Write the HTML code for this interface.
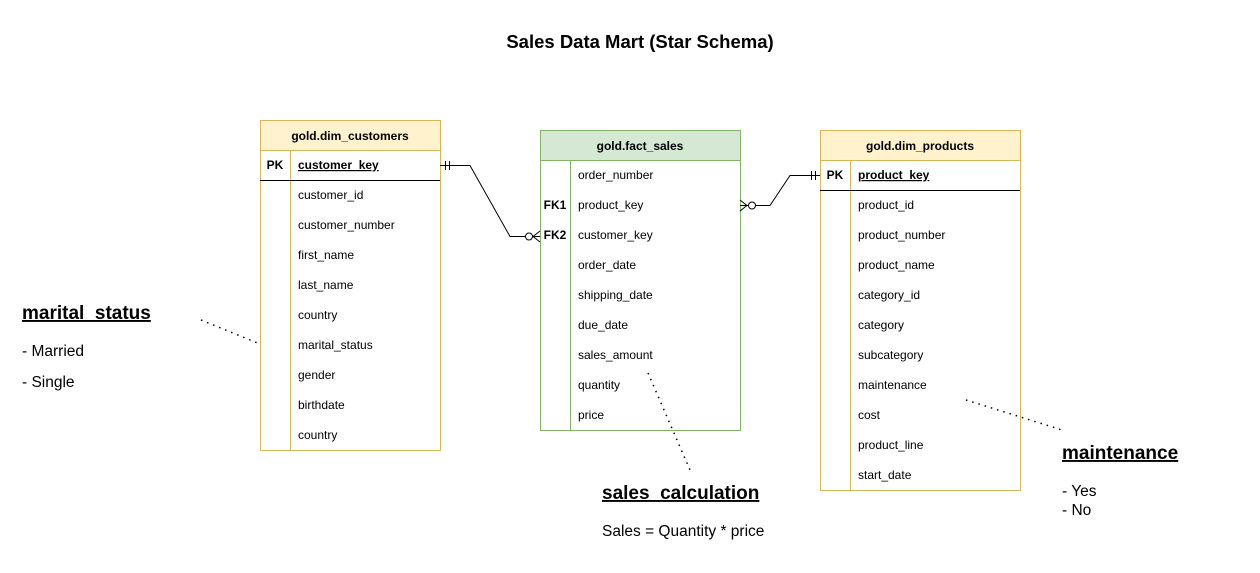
<!DOCTYPE html>
<html><head><meta charset="utf-8"><style>
html,body{margin:0;padding:0;background:#fff;}
svg{display:block;font-family:"Liberation Sans",Arial,sans-serif;}
</style></head><body>
<svg width="1260" height="573" viewBox="0 0 1260 573" xmlns="http://www.w3.org/2000/svg">
<text x="640" y="48" text-anchor="middle" font-size="18.5" font-weight="bold">Sales Data Mart (Star Schema)</text>

<!-- customers -->
<rect x="260.5" y="120.5" width="180" height="330" fill="#fff" stroke="#d6b656"/>
<rect x="260.5" y="120.5" width="180" height="30" fill="#fff2cc" stroke="#d6b656"/>
<line x1="290.5" y1="150" x2="290.5" y2="450" stroke="#d6b656"/>
<line x1="260" y1="180.5" x2="440" y2="180.5" stroke="#000"/>
<text x="350" y="140" text-anchor="middle" font-size="12" font-weight="bold">gold.dim_customers</text>
<text x="275" y="169" text-anchor="middle" font-size="12" font-weight="bold">PK</text>
<text x="298" y="169" font-size="12" font-weight="bold" text-decoration="underline">customer_key</text>
<g font-size="12">
<text x="298" y="199">customer_id</text>
<text x="298" y="229">customer_number</text>
<text x="298" y="259">first_name</text>
<text x="298" y="289">last_name</text>
<text x="298" y="319">country</text>
<text x="298" y="349">marital_status</text>
<text x="298" y="379">gender</text>
<text x="298" y="409">birthdate</text>
<text x="298" y="439">country</text>
</g>

<!-- fact -->
<rect x="540.5" y="130.5" width="200" height="300" fill="#fff" stroke="#82b366"/>
<rect x="540.5" y="130.5" width="200" height="30" fill="#d5e8d4" stroke="#82b366"/>
<line x1="570.5" y1="160" x2="570.5" y2="430" stroke="#82b366"/>
<text x="640" y="150" text-anchor="middle" font-size="12" font-weight="bold">gold.fact_sales</text>
<text x="555" y="209" text-anchor="middle" font-size="12" font-weight="bold">FK1</text>
<text x="555" y="239" text-anchor="middle" font-size="12" font-weight="bold">FK2</text>
<g font-size="12">
<text x="578" y="179">order_number</text>
<text x="578" y="209">product_key</text>
<text x="578" y="239">customer_key</text>
<text x="578" y="269">order_date</text>
<text x="578" y="299">shipping_date</text>
<text x="578" y="329">due_date</text>
<text x="578" y="359">sales_amount</text>
<text x="578" y="389">quantity</text>
<text x="578" y="419">price</text>
</g>

<!-- products -->
<rect x="820.5" y="130.5" width="200" height="360" fill="#fff" stroke="#d6b656"/>
<rect x="820.5" y="130.5" width="200" height="30" fill="#fff2cc" stroke="#d6b656"/>
<line x1="850.5" y1="160" x2="850.5" y2="490" stroke="#d6b656"/>
<line x1="820" y1="190.5" x2="1020" y2="190.5" stroke="#000"/>
<text x="920" y="150" text-anchor="middle" font-size="12" font-weight="bold">gold.dim_products</text>
<text x="835" y="179" text-anchor="middle" font-size="12" font-weight="bold">PK</text>
<text x="858" y="179" font-size="12" font-weight="bold" text-decoration="underline">product_key</text>
<g font-size="12">
<text x="858" y="209">product_id</text>
<text x="858" y="239">product_number</text>
<text x="858" y="269">product_name</text>
<text x="858" y="299">category_id</text>
<text x="858" y="329">category</text>
<text x="858" y="359">subcategory</text>
<text x="858" y="389">maintenance</text>
<text x="858" y="419">cost</text>
<text x="858" y="449">product_line</text>
<text x="858" y="479">start_date</text>
</g>

<!-- connectors -->
<g stroke="#000" fill="none" stroke-width="1">
<polyline points="440,165.5 470,165.5 510,236.5 525,236.5"/>
<line x1="445.5" y1="161" x2="445.5" y2="170"/>
<line x1="449.5" y1="161" x2="449.5" y2="170"/>
<circle cx="529" cy="236.5" r="3.5" fill="#fff"/>
<line x1="532" y1="236.5" x2="540" y2="236.5"/>
<line x1="533" y1="236.5" x2="540" y2="231"/>
<line x1="533" y1="236.5" x2="540" y2="242"/>

<line x1="740" y1="205.5" x2="748" y2="205.5"/>
<line x1="747" y1="205.5" x2="740" y2="200"/>
<line x1="747" y1="205.5" x2="740" y2="211"/>
<circle cx="752" cy="205.5" r="3.5" fill="#fff"/>
<polyline points="755.5,205.5 770,205.5 790,175.5 820,175.5"/>
<line x1="811.5" y1="171" x2="811.5" y2="180"/>
<line x1="815.5" y1="171" x2="815.5" y2="180"/>
</g>

<!-- dotted -->
<g stroke="#000" stroke-width="1.5" stroke-dasharray="1.5,5" fill="none">
<line x1="201" y1="320" x2="260" y2="344"/>
<line x1="648" y1="373" x2="690" y2="470"/>
<line x1="966" y1="400" x2="1062" y2="430"/>
</g>

<!-- notes -->
<text x="22" y="319" font-size="19" font-weight="bold" text-decoration="underline">marital_status</text>
<text x="22" y="356" font-size="15.5">- Married</text>
<text x="22" y="387" font-size="15.5">- Single</text>

<text x="602" y="499" font-size="19" font-weight="bold" text-decoration="underline">sales_calculation</text>
<text x="602" y="536" font-size="15.5">Sales = Quantity * price</text>

<text x="1062" y="459" font-size="19" font-weight="bold" text-decoration="underline">maintenance</text>
<text x="1062" y="496" font-size="15.5">- Yes</text>
<text x="1062" y="515" font-size="15.5">- No</text>
</svg>
</body></html>
